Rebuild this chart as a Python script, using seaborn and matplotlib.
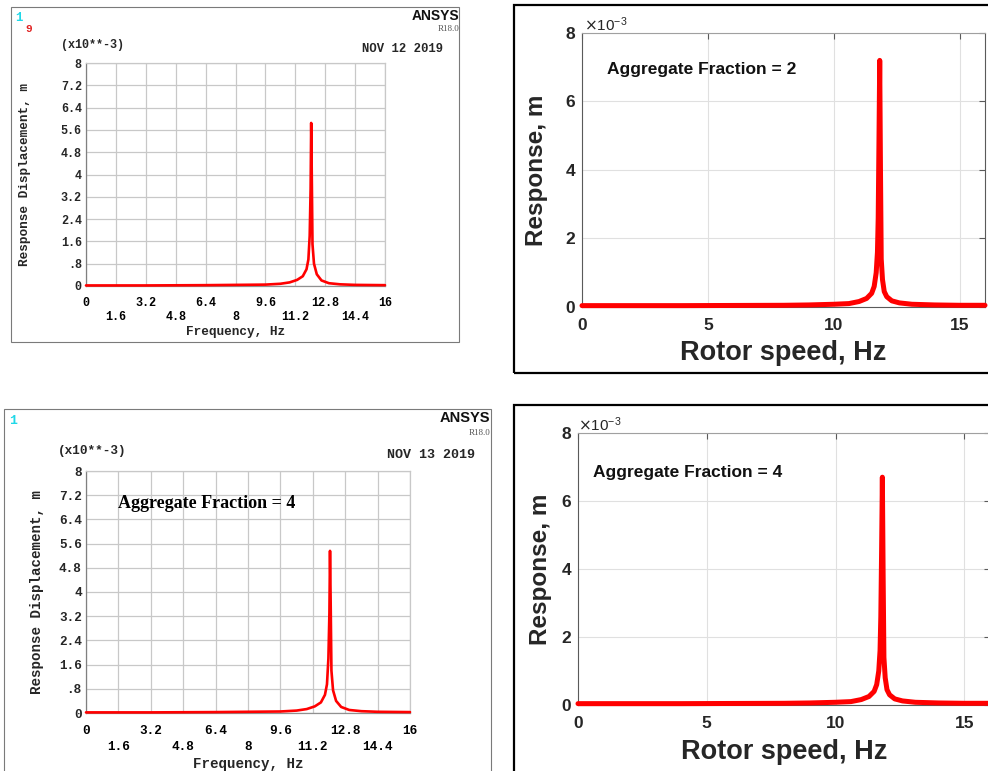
import matplotlib
matplotlib.use("Agg")
import matplotlib.pyplot as plt
import seaborn as sns
from matplotlib.patches import Rectangle
from matplotlib.ticker import FixedLocator, FixedFormatter

# ---------------- data (response in units of 1e-3 m) ----------------
ansys_af2_freq = [0, 1.6, 3.2, 4.8, 6.4, 8.0, 9.6, 10.4, 10.9, 11.3, 11.6, 11.8, 11.9,
                  11.97, 12.02, 12.05, 12.08, 12.12, 12.2, 12.35, 12.6, 13.0, 13.6, 14.4, 16.0]
ansys_af2_resp = [0.02, 0.02, 0.02, 0.025, 0.03, 0.04, 0.05, 0.08, 0.13, 0.22, 0.35, 0.6, 0.95,
                  1.8, 3.5, 5.85, 4.1, 1.5, 0.8, 0.42, 0.2, 0.1, 0.06, 0.04, 0.03]

ansys_af4_freq = [0, 1.6, 3.2, 4.8, 6.4, 8.0, 9.6, 10.4, 10.9, 11.3, 11.6, 11.8, 11.9,
                  11.97, 12.02, 12.05, 12.08, 12.12, 12.2, 12.35, 12.6, 13.0, 13.6, 14.4, 16.0]
ansys_af4_resp = [0.02, 0.02, 0.02, 0.025, 0.03, 0.04, 0.05, 0.08, 0.13, 0.22, 0.35, 0.6, 0.95,
                  1.8, 3.3, 5.36, 3.8, 1.4, 0.75, 0.4, 0.2, 0.1, 0.06, 0.04, 0.03]

matlab_af2_freq = [0, 2, 4, 6, 8, 9, 10, 10.6, 11.0, 11.3, 11.5, 11.6, 11.68, 11.73, 11.76,
                   11.79, 11.82, 11.85, 11.88, 11.93, 12.0, 12.1, 12.3, 12.6, 13.1, 14, 15, 16]
matlab_af2_resp = [0.04, 0.04, 0.04, 0.045, 0.05, 0.06, 0.08, 0.1, 0.16, 0.25, 0.4, 0.6, 1.0, 1.6, 2.6,
                   4.8, 7.2, 4.0, 1.4, 0.8, 0.45, 0.3, 0.18, 0.12, 0.08, 0.06, 0.05, 0.05]

matlab_af4_freq = [0, 2, 4, 6, 8, 9, 10, 10.6, 11.0, 11.3, 11.5, 11.6, 11.68, 11.73, 11.76,
                   11.79, 11.82, 11.85, 11.88, 11.93, 12.0, 12.1, 12.3, 12.6, 13.1, 14, 15, 16]
matlab_af4_resp = [0.04, 0.04, 0.04, 0.045, 0.05, 0.06, 0.08, 0.1, 0.16, 0.25, 0.4, 0.6, 1.0, 1.6, 2.6,
                   4.5, 6.7, 3.8, 1.4, 0.8, 0.45, 0.3, 0.18, 0.12, 0.08, 0.06, 0.05, 0.05]

ansys_y_ticks = [0, 0.8, 1.6, 2.4, 3.2, 4.0, 4.8, 5.6, 6.4, 7.2, 8.0]
ansys_y_labels = ["0", ".8", "1.6", "2.4", "3.2", "4", "4.8", "5.6", "6.4", "7.2", "8"]
ansys_x_major = [0, 3.2, 6.4, 9.6, 12.8, 16]
ansys_x_major_labels = ["0", "3.2", "6.4", "9.6", "12.8", "16"]
ansys_x_minor = [1.6, 4.8, 8.0, 11.2, 14.4]
ansys_x_minor_labels = ["1.6", "4.8", "8", "11.2", "14.4"]

matlab_x_ticks = [0, 5, 10, 15]
matlab_x_labels = ["0", "5", "10", "15"]
matlab_y_ticks = [0, 2, 4, 6, 8]
matlab_y_labels = ["0", "2", "4", "6", "8"]

ansys_dates = ["NOV 12 2019", "NOV 13 2019"]
af_labels = ["Aggregate Fraction = 2", "Aggregate Fraction = 4"]

# ---------------- layout helpers ----------------
W, H = 988, 771
sns.set_style("white")
plt.rcParams["font.family"] = ["Liberation Sans", "DejaVu Sans"]
fig = plt.figure(figsize=(W / 100, H / 100), dpi=100)
fig.patch.set_facecolor("white")
RED = "#ff0000"
MONO = "Liberation Mono"
SANS = "Liberation Sans"


def rect(l, t, r, b):
    return [l / W, 1 - b / H, (r - l) / W, (b - t) / H]


def fx(px):
    return px / W


def fy(py):
    return 1 - py / H


def frame(l, t, r, b, color, lw):
    fig.add_artist(Rectangle((fx(l), fy(b)), (r - l) / W, (b - t) / H,
                             transform=fig.transFigure, fill=False,
                             edgecolor=color, linewidth=lw, zorder=0))


def ansys_panel(box, freq, resp, fs_tick, fs_lab, maj_pad, min_pad, ylab_x, xlab_y):
    l, t, r, b = box
    ax = fig.add_axes(rect(l, t, r, b))
    sns.lineplot(x=freq, y=resp, ax=ax, color=RED, linewidth=1.9,
                 estimator=None, sort=False, zorder=4)
    ax.lines[-1].set_clip_on(False)
    ax.set_xlim(0, 16)
    ax.set_ylim(0, 8)
    ax.xaxis.set_major_locator(FixedLocator(ansys_x_major))
    ax.xaxis.set_major_formatter(FixedFormatter(ansys_x_major_labels))
    ax.xaxis.set_minor_locator(FixedLocator(ansys_x_minor))
    ax.xaxis.set_minor_formatter(FixedFormatter(ansys_x_minor_labels))
    ax.yaxis.set_major_locator(FixedLocator(ansys_y_ticks))
    ax.yaxis.set_major_formatter(FixedFormatter(ansys_y_labels))
    ax.grid(True, which="both", color="#c8c8c8", linewidth=0.9)
    ax.set_axisbelow(True)
    for s in ax.spines.values():
        s.set_color("#c8c8c8")
        s.set_linewidth(0.9)
    ax.spines["left"].set_color("#808080")
    ax.spines["bottom"].set_color("#909090")
    ax.tick_params(axis="x", which="major", length=3, color="#c0c0c0", pad=maj_pad,
                   labelsize=fs_tick, labelcolor="black")
    ax.tick_params(axis="x", which="minor", length=3, color="#c0c0c0", pad=min_pad,
                   labelsize=fs_tick, labelcolor="black")
    ax.tick_params(axis="y", length=2.5, color="#808080", pad=0.5, labelsize=fs_tick)
    for lbl in ax.get_xticklabels(which="both") + ax.get_yticklabels():
        lbl.set_fontfamily(MONO)
        lbl.set_fontweight("bold")
    ax.set_xlabel("Frequency, Hz", fontfamily=MONO, fontweight="bold", fontsize=fs_lab)
    ax.set_ylabel("Response Displacement, m", fontfamily=MONO, fontweight="bold", fontsize=fs_lab)
    ax.xaxis.set_label_coords(0.5, (b - xlab_y) / (b - t))
    ax.xaxis.label.set_va("center")
    ax.yaxis.set_label_coords((ylab_x - l) / (r - l), 0.5)
    ax.yaxis.label.set_va("center")
    return ax


def matlab_panel(box, freq, resp, ylab_x, xlab_y):
    l, t, r, b = box
    ax = fig.add_axes(rect(l, t, r, b))
    sns.lineplot(x=freq, y=resp, ax=ax, color=RED, linewidth=3.6,
                 estimator=None, sort=False, zorder=4)
    ax.lines[-1].set_clip_on(False)
    ax.set_xlim(0, 16)
    ax.set_ylim(0, 8)
    ax.set_xticks(matlab_x_ticks, labels=matlab_x_labels, fontweight="bold",
                  fontsize=12.5, color="#262626", fontfamily=SANS)
    ax.set_yticks(matlab_y_ticks, labels=matlab_y_labels, fontweight="bold",
                  fontsize=12.5, color="#262626", fontfamily=SANS)
    ax.grid(True, color="#e0e0e0", linewidth=0.8)
    ax.set_axisbelow(True)
    for s in ax.spines.values():
        s.set_color("#5a5a5a")
        s.set_linewidth(0.8)
    ax.spines["top"].set_color("#a0a0a0")
    ax.tick_params(direction="in", top=True, right=True, length=4, color="#5a5a5a")
    ax.tick_params(axis="x", pad=8)
    ax.tick_params(axis="y", pad=5)
    ax.set_xlabel("Rotor speed, Hz", fontweight="bold", fontsize=19.5, color="#262626")
    ax.set_ylabel("Response, m", fontweight="bold", fontsize=17.5, color="#262626")
    ax.xaxis.set_label_coords(0.5, (b - xlab_y) / (b - t))
    ax.xaxis.label.set_va("center")
    ax.yaxis.set_label_coords((ylab_x - l) / (r - l), 0.5)
    ax.yaxis.label.set_va("center")
    return ax


# ---------------- panel frames ----------------
frame(11, 7, 459, 342, "#7a7a7a", 0.8)
frame(4, 409, 491, 780, "#7a7a7a", 0.8)
frame(514, 5, 995, 373, "black", 1.6)
frame(514, 405, 995, 780, "black", 1.6)

# ---------------- ANSYS panel (top-left) ----------------
ansys_panel((86, 63, 385, 286), ansys_af2_freq, ansys_af2_resp,
            fs_tick=8.5, fs_lab=9.2, maj_pad=5, min_pad=15, ylab_x=25, xlab_y=332)
fig.text(fx(19), fy(18), "1", color="#20d8e8", fontfamily=MONO, fontweight="bold",
         fontsize=9, ha="center", va="center")
fig.text(fx(29), fy(29), "9", color="#e02020", fontfamily=MONO, fontweight="bold",
         fontsize=8, ha="center", va="center")
fig.text(fx(459), fy(16), "ANSYS", fontfamily=SANS, fontweight="bold",
         fontsize=10, ha="right", va="center", color="#111111")
fig.text(fx(459), fy(29), "R18.0", fontfamily="Liberation Serif", fontsize=6.5,
         ha="right", va="center", color="#555555")
fig.text(fx(61), fy(45), "(x10**-3)", fontfamily=MONO, fontweight="bold", fontsize=8.5,
         ha="left", va="center")
fig.text(fx(362), fy(49), ansys_dates[0], fontfamily=MONO, fontweight="bold", fontsize=8.8,
         ha="left", va="center")

# ---------------- MATLAB panel (top-right) ----------------
ax2 = matlab_panel((582, 33, 985, 307), matlab_af2_freq, matlab_af2_resp,
                   ylab_x=537, xlab_y=353)
ax2.text((607 - 582) / (985 - 582), (307 - 70) / (307 - 33), af_labels[0],
         transform=ax2.transAxes, fontweight="bold", fontsize=12.5, ha="left", va="center",
         color="#111111")
fig.text(fx(584), fy(25), r"$\times\mathregular{10^{-3}}$", fontsize=11, ha="left",
         va="center", color="#262626")

# ---------------- ANSYS panel (bottom-left) ----------------
ax3 = ansys_panel((86, 471, 410, 713), ansys_af4_freq, ansys_af4_resp,
                  fs_tick=9.2, fs_lab=10.2, maj_pad=6, min_pad=17, ylab_x=37, xlab_y=764)
fig.text(fx(13), fy(421), "1", color="#20d8e8", fontfamily=MONO, fontweight="bold",
         fontsize=9.5, ha="center", va="center")
fig.text(fx(490), fy(418), "ANSYS", fontfamily=SANS, fontweight="bold",
         fontsize=10.5, ha="right", va="center", color="#111111")
fig.text(fx(490), fy(433), "R18.0", fontfamily="Liberation Serif", fontsize=6.5,
         ha="right", va="center", color="#555555")
fig.text(fx(58), fy(451), "(x10**-3)", fontfamily=MONO, fontweight="bold", fontsize=9.2,
         ha="left", va="center")
fig.text(fx(387), fy(455), ansys_dates[1], fontfamily=MONO, fontweight="bold", fontsize=9.6,
         ha="left", va="center")
ax3.text((118 - 86) / (410 - 86), (713 - 504) / (713 - 471), af_labels[1],
         transform=ax3.transAxes, fontfamily="Liberation Serif", fontweight="bold",
         fontsize=13, ha="left", va="center", color="black")

# ---------------- MATLAB panel (bottom-right) ----------------
ax4 = matlab_panel((578, 433, 990, 705), matlab_af4_freq, matlab_af4_resp,
                   ylab_x=540, xlab_y=752)
ax4.text((593 - 578) / (990 - 578), (705 - 473) / (705 - 433), af_labels[1],
         transform=ax4.transAxes, fontweight="bold", fontsize=12.5, ha="left", va="center",
         color="#111111")
fig.text(fx(578), fy(425), r"$\times\mathregular{10^{-3}}$", fontsize=11, ha="left",
         va="center", color="#262626")

fig.savefig("out.png", dpi=100)
